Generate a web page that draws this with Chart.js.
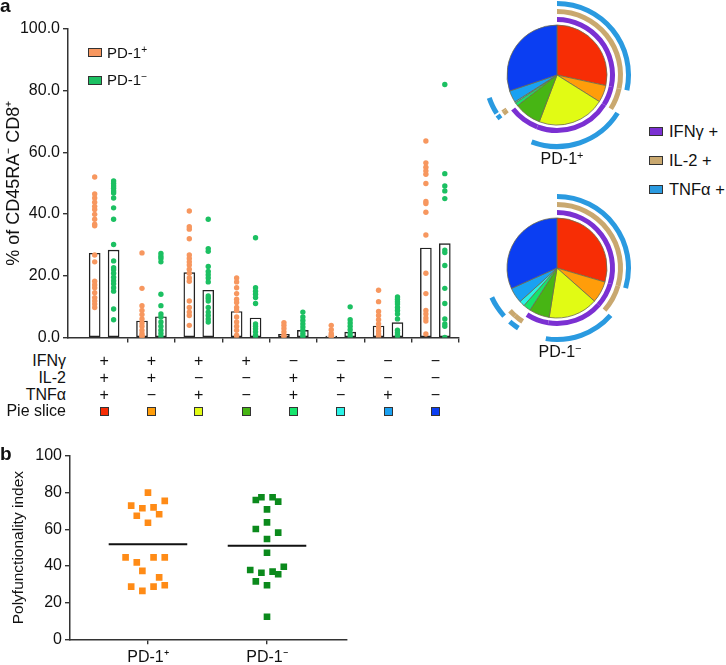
<!DOCTYPE html>
<html><head><meta charset="utf-8"><title>PD-1 polyfunctionality</title>
<script src="https://cdn.jsdelivr.net/npm/chart.js@4/dist/chart.umd.min.js"></script>
<style>
html,body{margin:0;padding:0;background:#fff}
body{width:726px;height:665px;position:relative;overflow:hidden;font-family:"Liberation Sans",Arial,Helvetica,sans-serif;color:#111}
canvas{position:absolute;display:block}
.t{position:absolute;white-space:nowrap;line-height:1}
.c{transform:translate(-50%,-50%)}
.r{transform:translate(-100%,-50%)}
.l{transform:translate(0,-50%)}
.sq{position:absolute;box-sizing:border-box;border:1px solid #333}
.sup{font-size:68%;position:relative;top:-0.5em}
</style></head>
<body>
<canvas id="cA" width="470" height="350" style="left:0px;top:0px"></canvas>
<canvas id="cP1" width="150" height="150" style="left:482px;top:0px"></canvas>
<canvas id="cP2" width="150" height="150" style="left:482px;top:193px"></canvas>
<canvas id="cB" width="360" height="225" style="left:0px;top:440px"></canvas>
<div id="overlay"></div>
<script>
// ---------------- data ----------------
const combos = ['IFNγ+IL-2+TNFα+','IFNγ+IL-2+','IFNγ+TNFα+','IFNγ+','IL-2+TNFα+','IL-2+','TNFα+','none'];
const rowLabels = ['IFNγ','IL-2','TNFα','Pie slice'];
const ifng = ['+','+','+','+','−','−','−','−'];
const il2  = ['+','+','−','−','+','+','−','−'];
const tnfa = ['+','−','+','−','+','−','+','−'];
const sliceColors = ['#f72d05','#ff9d0a','#e1fb14','#47b514','#16e46c','#2af2e6','#1aa1f2','#0b3ef2'];

const meanPDpos = [27.3, 5.3, 21.0, 8.4, 1.0, 0.4, 3.7, 29.0];
const meanPDneg = [28.3, 6.7, 15.3, 6.3, 2.3, 1.7, 4.8, 30.4];

const dotsPDpos = [
  [52.0,46.5,45.2,43.8,42.5,41.5,39.9,38.3,36.7,36.2,26.7,24.5,18.2,17.1,16.1,14.5,12.9,11.8,10.8,9.7],
  [27.4,15.9,10.3,8.7,7.4,6.0,4.7,3.6,2.3,1.3,0.6,0.2,0.0],
  [41.0,35.9,35.1,32.0,26.7,25.6,24.5,23.5,22.1,20.8,19.3,18.2,11.8,9.7,8.2,7.1,3.9],
  [19.3,18.0,16.1,14.2,12.4,11.3,9.7,8.7,6.6,5.0,3.6,2.3,0.7,0.0],
  [4.8,3.9,2.9,1.8,0.8,0.3,0.0],
  [3.9,2.5,1.3,0.6,0.2,0.0],
  [15.3,11.6,8.4,7.1,5.7,4.4,3.2,2.1,1.1,0.2],
  [63.7,56.6,55.2,54.0,52.9,49.9,44.1,43.4,40.6,33.2,20.8,14.2,8.7,7.6,6.3,5.3,1.1]
];
const dotsPDneg = [
  [50.7,49.9,49.1,48.4,47.5,46.8,45.2,42.0,38.3,30.1,24.8,22.6,21.9,20.8,19.5,18.4,17.4,16.1,15.0,9.2,5.7],
  [27.2,26.3,25.6,24.5,14.0,10.3,7.6,6.6,5.0,3.6,2.3,1.3,0.2],
  [38.3,28.8,27.9,23.0,21.4,20.3,19.3,18.0,13.4,12.7,11.8,9.7,8.2,7.1,6.0,5.0],
  [32.3,16.1,15.0,14.0,12.9,11.0,4.4,3.6,2.8,1.8,0.7,0.0],
  [8.2,6.6,5.5,4.4,3.4,2.3,1.3,0.4,0.0],
  [9.9,5.7,4.7,3.6,2.5,1.3,0.2],
  [13.1,12.4,11.6,10.8,9.7,8.7,7.6,6.0,2.3,1.5,0.7,0.0],
  [82.0,53.1,49.1,47.5,45.0,28.3,27.5,23.3,15.9,11.0,6.0,4.4,3.6,0.0]
];
const yTicksA = [0,20,40,60,80,100];

const polyCats = ['PD-1⁺','PD-1⁻'];
const polyPos     = [80.0,72.9,71.5,72.0,75.5,67.4,68.2,63.6,44.7,42.0,44.7,44.7,37.3,33.8,28.7,26.4,28.7,29.5];
const polyPosSlot = [0,-3,-1,1,3,-2,2,0,-4,-2,1,3,-1,2,-3,-1,1,3];
const polyNeg     = [76.0,77.5,77.5,75.1,70.9,63.8,60.2,58.2,54.7,47.2,37.8,36.3,36.9,35.5,39.6,31.6,29.5,12.3];
const polyNegSlot = [-2,-1,1,2,0,0,-2,2,0,0,-3,-1,1,2,3,-2,0,0];
const polyMean = [51.8, 51.1];
const yTicksB = [0,20,40,60,80,100];

// ---------------- style ----------------
const FONT = '"Liberation Sans", Arial, Helvetica, sans-serif';
Chart.defaults.font.family = FONT;
Chart.defaults.color = '#111';
const ORANGE_DOT = '#f7975f', GREEN_DOT = '#1cc062';
const ORANGE_SQ = '#ff8b16', GREEN_SQ = '#0b8a1c';
const PURPLE = '#7b30d2', TAN = '#c9a86f', BLUE = '#2a9ae0';
const AXIS = '#333';
const BAR_OFF = 0.2, SLOT_W = 0.047, MEAN_HALF = 0.33;

// ---------------- panel a : bars + dots ----------------
const groupEdges = meanPDpos.map((_, i) => i + 0.5);
const chartA = new Chart(document.getElementById('cA'), {
  type: 'scatter',
  data: { datasets: [
    { type:'bar', data: meanPDpos.map((v,i)=>({x:i-BAR_OFF,y:v})), backgroundColor:'#fff', borderColor:'#222', borderWidth:1.4, barThickness:11, grouped:false, borderSkipped:false, order:2 },
    { type:'bar', data: meanPDneg.map((v,i)=>({x:i+BAR_OFF,y:v})), backgroundColor:'#fff', borderColor:'#222', borderWidth:1.4, barThickness:11, grouped:false, borderSkipped:false, order:2 },
    { type:'scatter', data: dotsPDpos.flatMap((a,i)=>a.map(v=>({x:i-BAR_OFF,y:v}))), backgroundColor:ORANGE_DOT, borderWidth:0, pointRadius:2.7, order:1 },
    { type:'scatter', data: dotsPDneg.flatMap((a,i)=>a.map(v=>({x:i+BAR_OFF,y:v}))), backgroundColor:GREEN_DOT, borderWidth:0, pointRadius:2.7, order:1 }
  ]},
  options: {
    responsive:false, animation:false, events:[],
    layout:{ padding:{ top:29, right:11, left:0, bottom:0 } },
    plugins:{ legend:{display:false}, tooltip:{enabled:false} },
    scales:{
      x:{ type:'linear', min:-0.764, max:7.5, offset:false,
          grid:{ display:true, drawOnChartArea:false, drawTicks:true, tickLength:5, color:AXIS, lineWidth:1.4, offset:false },
          border:{ display:true, color:AXIS, width:1.5 },
          ticks:{ display:false },
          afterBuildTicks: s => { s.ticks = groupEdges.map(v=>({value:v})); },
          afterFit: s => { s.height = 6; } },
      y:{ min:0, max:100,
          afterBuildTicks: s => { s.ticks = yTicksA.map(v=>({value:v})); },
          ticks:{ callback: v => Number(v).toFixed(1), font:{size:16}, color:'#111', padding:3 },
          grid:{ drawOnChartArea:false, tickLength:5, color:AXIS, lineWidth:1.4 },
          border:{ color:AXIS, width:1.5 },
          title:{ display:true, text:'% of CD45RA⁻ CD8⁺', font:{size:18}, color:'#111', padding:{top:3,bottom:0} },
          afterFit: s => { s.width = 68; } }
    }
  }
});

// ---------------- pies ----------------
function makePie(id, values){
  const tr = 'rgba(0,0,0,0)';
  const ring = (signs,color,w)=>({ data:values, backgroundColor:signs.map(s=>s==='+'?color:tr), borderWidth:0, weight:w });
  const gap = w=>({ data:values, backgroundColor:values.map(()=>tr), borderWidth:0, weight:w });
  return new Chart(document.getElementById(id), {
    type:'doughnut',
    data:{ labels:combos, datasets:[
      ring(tnfa, BLUE, 5), gap(3), ring(il2, TAN, 5), gap(3), ring(ifng, PURPLE, 5), gap(3),
      { data:values, backgroundColor:sliceColors, borderColor:'#6d6b4c', borderWidth:0.8, weight:50 }
    ]},
    options:{ responsive:false, animation:false, events:[], radius:74, cutout:0,
      plugins:{ legend:{display:false}, tooltip:{enabled:false} } }
  });
}
makePie('cP1', meanPDpos);
makePie('cP2', meanPDneg);

// ---------------- panel b ----------------
new Chart(document.getElementById('cB'), {
  type:'scatter',
  data:{ datasets:[
    { data: polyPos.map((v,i)=>({x:0+polyPosSlot[i]*SLOT_W, y:v})), pointStyle:'rect', pointRadius:4.7, backgroundColor:ORANGE_SQ, borderWidth:0 },
    { data: polyNeg.map((v,i)=>({x:1+polyNegSlot[i]*SLOT_W, y:v})), pointStyle:'rect', pointRadius:4.7, backgroundColor:GREEN_SQ, borderWidth:0 },
    { type:'line', data: polyMean.flatMap((m,i)=>[{x:i-MEAN_HALF,y:m},{x:i+MEAN_HALF,y:m},{x:NaN,y:NaN}]), borderColor:'#111', borderWidth:2, pointRadius:0, spanGaps:false }
  ]},
  options:{
    responsive:false, animation:false, events:[],
    layout:{ padding:{ top:16, right:13, left:0, bottom:0 } },
    plugins:{ legend:{display:false}, tooltip:{enabled:false} },
    scales:{
      x:{ type:'linear', min:-0.655, max:1.672,
          afterBuildTicks: s => { s.ticks = polyCats.map((_,i)=>({value:i})); },
          ticks:{ autoSkip:false, maxRotation:0, callback:(v,i)=>polyCats[i], font:{size:16}, color:'#111', padding:4 },
          grid:{ drawOnChartArea:false, tickLength:5, color:AXIS, lineWidth:1.4 },
          border:{ color:AXIS, width:1.5 },
          afterFit: s => { s.height = 25.7; } },
      y:{ min:0, max:100,
          afterBuildTicks: s => { s.ticks = yTicksB.map(v=>({value:v})); },
          ticks:{ font:{size:16}, color:'#111', padding:3 },
          grid:{ drawOnChartArea:false, tickLength:5, color:AXIS, lineWidth:1.4 },
          border:{ color:AXIS, width:1.5 },
          title:{ display:true, text:'Polyfunctionality index', font:{size:15.5}, color:'#111', padding:{top:9,bottom:0} },
          afterFit: s => { s.width = 70; } }
    }
  }
});

// ---------------- HTML text overlay ----------------
const ov = document.getElementById('overlay');
function txt(html, x, y, cls, size, extra){
  const d = document.createElement('div');
  d.className = 't ' + cls;
  d.style.left = x + 'px'; d.style.top = y + 'px'; d.style.fontSize = size + 'px';
  if (extra) d.style.cssText += extra;
  d.innerHTML = html; ov.appendChild(d); return d;
}
function box(x, y, w, h, color){
  const d = document.createElement('div');
  d.className = 'sq';
  d.style.left = x + 'px'; d.style.top = y + 'px'; d.style.width = w + 'px'; d.style.height = h + 'px';
  d.style.background = color; ov.appendChild(d); return d;
}
// panel letters
txt('a', 0, -4, '', 19, 'font-weight:bold;');
txt('b', 0, 444, '', 19, 'font-weight:bold;');
// panel a legend
box(88, 48, 14, 9, ORANGE_DOT); txt('PD-1<span class="sup">+</span>', 107, 53, 'l', 15);
box(88, 76, 14, 9, GREEN_DOT);  txt('PD-1<span class="sup">−</span>', 107, 80, 'l', 15);
// combination table
const xs = meanPDpos.map((_,i)=>chartA.scales.x.getPixelForValue(i));
const rowY = [361, 378, 394.5, 411];
rowLabels.forEach((lab, r) => txt(lab, 66, rowY[r], 'r', 16));
[ifng, il2, tnfa].forEach((row, r) => row.forEach((s, i) => txt(s, xs[i], rowY[r], 'c', 16)));
sliceColors.forEach((c, i) => box(xs[i]-4.5, rowY[3]-4.5, 9, 9, c));
// pie labels
txt('PD-1<span class="sup">+</span>', 562, 159, 'c', 16);
txt('PD-1<span class="sup">−</span>', 560, 352, 'c', 16);
// ring legend
const ringLegend = [['IFNγ +', PURPLE], ['IL-2 +', TAN], ['TNFα +', BLUE]];
ringLegend.forEach(([lab, col], i) => {
  const cy = 131 + i*29;
  box(649, cy-4.5, 14, 9, col);
  txt(lab, 669, cy, 'l', 16.5);
});
</script>
</body></html>
